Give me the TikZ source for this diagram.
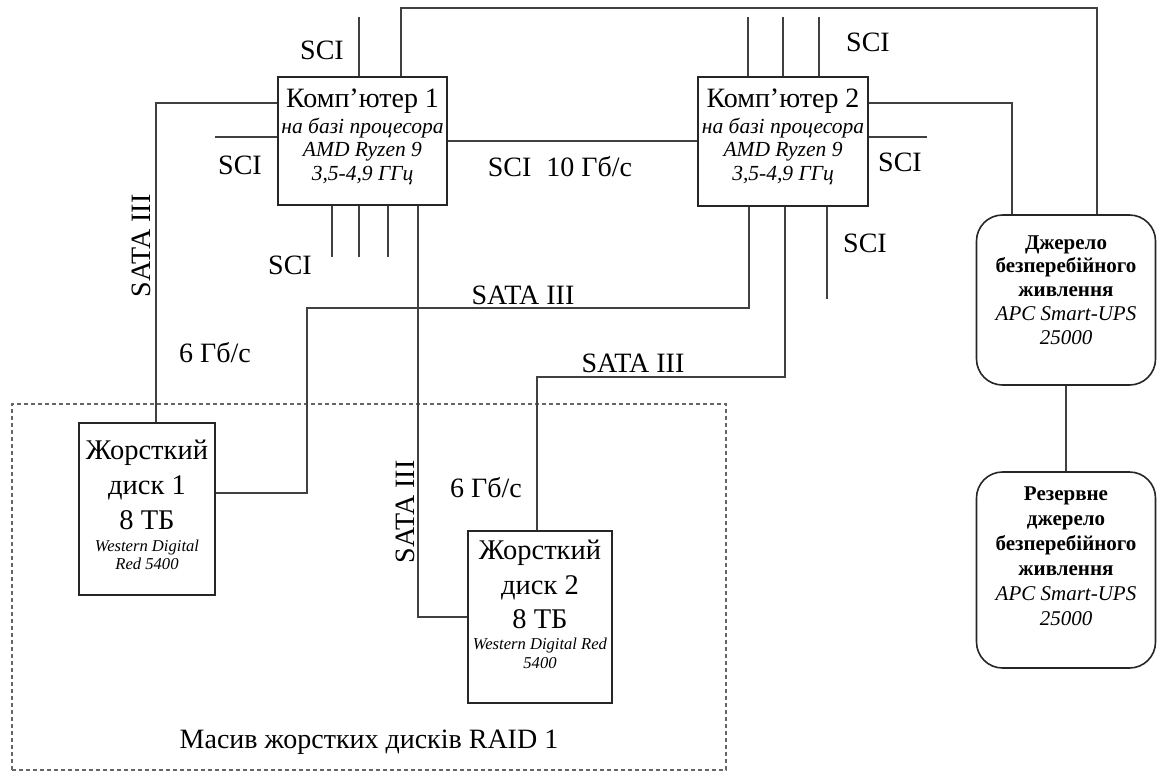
\documentclass[tikz,border=0pt]{standalone}
\usepackage{fontspec}
\setmainfont{Liberation Serif}
\usetikzlibrary{calc}
\tikzset{
  box/.style={draw=black!85, line width=1.6pt, inner sep=0pt},
  ups/.style={box, rounded corners=26pt},
  txt/.style={align=center, inner sep=0pt, text=black},
  comptxt/.style={txt, font=\fontsize{21.5}{23.5}\selectfont\itshape},
  disktxt/.style={txt, font=\fontsize{16.6}{18.3}\selectfont\itshape},
  upstxt/.style={txt, font=\fontsize{21}{23.8}\selectfont\bfseries},
  lbl/.style={inner sep=0pt, font=\fontsize{28}{32}\selectfont, text=black},
  wire/.style={draw=black!75, line width=1.3pt},
  group/.style={draw=black!60, line width=1.1pt, dash pattern=on 4pt off 3pt}
}
\newcommand{\bigf}{\upshape\fontsize{28}{30}\selectfont}
\newcommand{\diskf}{\upshape\fontsize{28.5}{30}\selectfont}
\newcommand{\upsit}{\mdseries\itshape}
\begin{document}
\begin{tikzpicture}[x=1pt,y=-1pt]
\useasboundingbox (0,0) rectangle (1158,772);
% group
\node[group, minimum width=714, minimum height=366, inner sep=0pt] (raid) at (369,587) {};
\node[lbl] (raidl) at (369,742) {Масив жорстких дисків RAID 1};
% boxes
\node[box, minimum width=169, minimum height=128] (c1) at (362.5,141) {};
\node[comptxt] (c1t) at (362.5,137) {\bigf Комп’ютер 1\\[2pt] на базі процесора\\ AMD Ryzen 9\\ 3,5-4,9 ГГц};
\node[box, minimum width=170, minimum height=129] (c2) at (783,141.5) {};
\node[comptxt] (c2t) at (783,137) {\bigf Комп’ютер 2\\[2pt] на базі процесора\\ AMD Ryzen 9\\ 3,5-4,9 ГГц};
\node[box, minimum width=136, minimum height=172] (d1) at (147,509) {};
\node[disktxt] (d1t) at (147,505) {\diskf Жорсткий\\[9pt] \diskf диск 1\\[9pt] \diskf 8 ТБ\\[4pt] Western Digital\\ Red 5400};
\node[box, minimum width=144, minimum height=172] (d2) at (540,617) {};
\node[disktxt] (d2t) at (540,604) {\diskf Жорсткий\\[9pt] \diskf диск 2\\[9pt] \diskf 8 ТБ\\[3pt] Western Digital Red\\ 5400};
\node[ups, minimum width=179, minimum height=170] (u1) at (1066,300) {};
\node[upstxt] (u1t) at (1066,290) {Джерело\\ безперебійного\\ живлення\\ \upsit APC Smart-UPS\\ \upsit 25000};
\node[ups, minimum width=179, minimum height=196] (u2) at (1066,570) {};
\node[upstxt, font=\fontsize{21}{25}\selectfont\bfseries] (u2t) at (1066,556) {Резервне\\ джерело\\ безперебійного\\ живлення\\ \upsit APC Smart-UPS\\ \upsit 25000};
% free-end coordinates
\coordinate (a1) at (359,17);
\coordinate (t1) at (401,8);
\coordinate (t2) at (1097,8);
\coordinate (l1) at (156,103);
\coordinate (l2) at (215,137);
\coordinate (b1) at (332,257);
\coordinate (b2) at (359,257);
\coordinate (b3) at (388,257);
\coordinate (r1) at (418,617);
\coordinate (a2) at (748,17);
\coordinate (a3) at (783,17);
\coordinate (a4) at (819,17);
\coordinate (r2) at (1012,103);
\coordinate (r3) at (927,137);
\coordinate (m1) at (749,308);
\coordinate (m2) at (307,308);
\coordinate (m3) at (307,493);
\coordinate (n1) at (785,377);
\coordinate (n2) at (537,377);
\coordinate (b4) at (827,299);
\coordinate (u0) at (1066,0);
% computer 1 wires
\draw[wire] (c1.north -| a1) -- (a1);
\draw[wire] (c1.north -| t1) -- (t1) -- (t2) -- (u1.north -| t2);
\draw[wire] (c1.west |- l1) -- (l1) -- (d1.north -| l1);
\draw[wire] (c1.west |- l2) -- (l2);
\draw[wire] (c1.south -| b1) -- (b1);
\draw[wire] (c1.south -| b2) -- (b2);
\draw[wire] (c1.south -| b3) -- (b3);
\draw[wire] (c1.south -| r1) -- (r1) -- (d2.west |- r1);
\draw[wire] (c1.east) -- (c2.west |- c1.east);
% computer 2 wires
\draw[wire] (c2.north -| a2) -- (a2);
\draw[wire] (c2.north -| a3) -- (a3);
\draw[wire] (c2.north -| a4) -- (a4);
\draw[wire] (c2.east |- r2) -- (r2) -- (u1.north -| r2);
\draw[wire] (c2.east |- r3) -- (r3);
\draw[wire] (c2.south -| m1) -- (m1) -- (m2) -- (m3) -- (d1.east |- m3);
\draw[wire] (c2.south -| n1) -- (n1) -- (n2) -- (d2.north -| n2);
\draw[wire] (c2.south -| b4) -- (b4);
\draw[wire] (u1.south -| u0) -- (u2.north -| u0);
% labels
\node[lbl] (s1) at (322,50) {SCI};
\node[lbl] (s2) at (240,165) {SCI};
\node[lbl] (s3) at (290,265) {SCI};
\node[lbl] (s4) at (560,167) {SCI\hspace{15pt}10 Гб/с};
\node[lbl] (s5) at (868,42) {SCI};
\node[lbl] (s6) at (900,162) {SCI};
\node[lbl] (s7) at (865,243) {SCI};
\node[lbl, rotate=90] (sa1) at (141,246) {SATA III};
\node[lbl] (g1) at (215,353) {6 Гб/с};
\node[lbl] (sa2) at (523,295) {SATA III};
\node[lbl] (sa3) at (633,363) {SATA III};
\node[lbl, rotate=90] (sa4) at (405,512) {SATA III};
\node[lbl] (g2) at (486,488) {6 Гб/с};
\end{tikzpicture}
\end{document}
